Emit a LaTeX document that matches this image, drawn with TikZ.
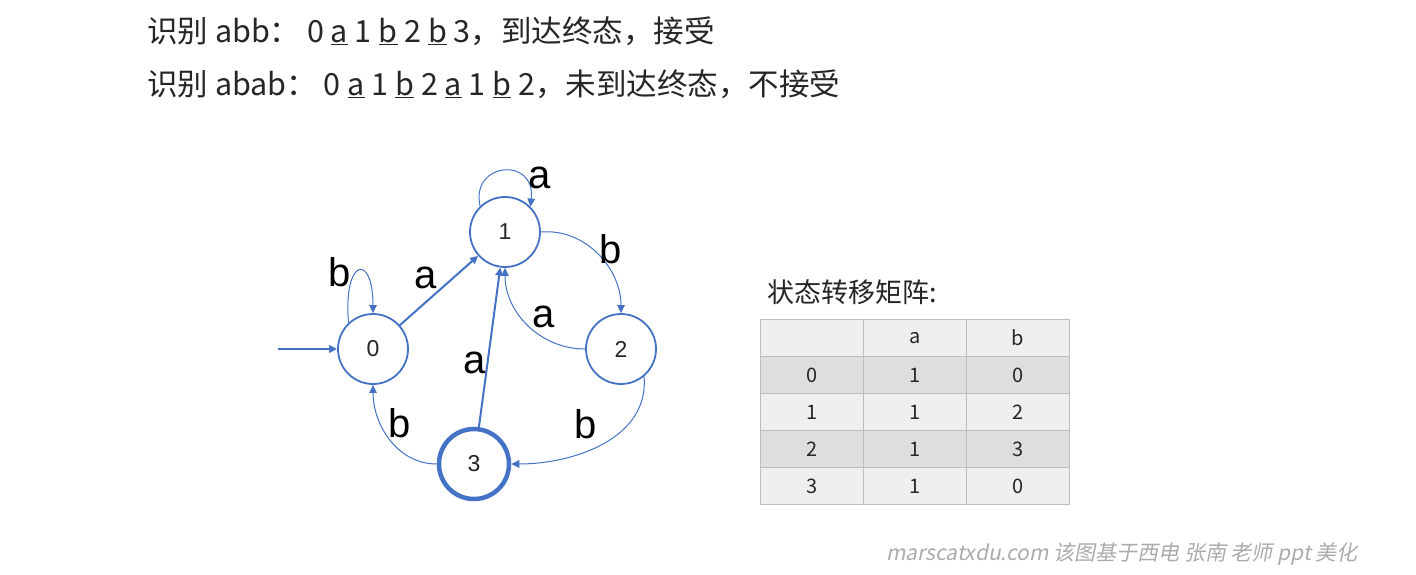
\documentclass[tikz,border=0pt]{standalone}
\usepackage{fontspec}
\setmainfont{Noto Sans CJK SC}
\newfontfamily\labfont{Liberation Sans}
\newfontfamily\wmfont{Noto Sans CJK SC}[FakeSlant=0.2]
\usetikzlibrary{arrows.meta}
\definecolor{edgeblue}{HTML}{4472C4}
\definecolor{txt}{HTML}{262626}
\definecolor{rowdark}{HTML}{DEDEDE}
\definecolor{rowlight}{HTML}{EFEFEF}
\definecolor{tborder}{HTML}{BDBDBD}
\tikzset{
  state/.style={circle, draw=edgeblue, line width=1.8pt, minimum size=70pt, inner sep=0pt, font=\labfont\fontsize{23}{23}\selectfont, text=txt},
  accept/.style={state, line width=4.5pt},
  lab/.style={inner sep=0pt, font=\labfont\fontsize{40}{40}\selectfont, text=black},
  thinedge/.style={draw=edgeblue, line width=1pt, -{Triangle[length=8pt,width=7.5pt]}},
  thickedge/.style={draw=edgeblue, line width=2pt, -{Triangle[length=8pt,width=7.5pt]}},
  cell/.style={draw=tborder, line width=1.5pt, minimum width=103pt, minimum height=37pt, inner sep=0pt, font=\fontsize{20}{20}\selectfont, text=txt},
  line/.style={anchor=west, inner sep=0pt, font=\fontsize{30.5}{30.5}\selectfont, text=txt},
}
\begin{document}
\begin{tikzpicture}[x=1pt,y=-1pt]
\useasboundingbox (0,0) rectangle (1416,575);
\fill[white] (0,0) rectangle (1416,575);
% text lines
\node[line] (l1) at (147,31) {识别 abb：\ 0 \underline{a} 1 \underline{b} 2 \underline{b} 3，到达终态，接受};
\node[line] (l2) at (147,84) {识别 abab：\ 0 \underline{a} 1 \underline{b} 2 \underline{a} 1 \underline{b} 2，未到达终态，不接受};
% states
\node[state] (n0) at (373,349) {0};
\node[state] (n1) at (505,232) {1};
\node[state] (n2) at (621,349) {2};
\node[accept] (n3) at (474,464) {3};
\coordinate (s) at (278,349);
% edges
\draw[thickedge] (s) -- (n0);
\draw[thinedge] (n0.133) .. controls (343,258) and (373,252) .. (n0.90);
\draw[thinedge] (n1.134) .. controls (470,162) and (536,156) .. (n1.45);
\draw[thickedge] (n0) -- (n1);
\draw[thinedge] (n1.east) to[out=5,in=90] (n2.north);
\draw[thinedge] (n2.west) to[out=180,in=-90] (n1.south);
\draw[thickedge] (n3) -- (n1);
\draw[thinedge] (n2.-50) to[out=-85,in=0] (n3.east);
\draw[thinedge] (n3.west) to[out=180,in=-90] (n0.south);
% labels
\node[lab] (lb0) at (340,272) {b};
\node[lab] (la1) at (540,178) {a};
\node[lab] (la01) at (426,278) {a};
\node[lab] (lb12) at (611,249) {b};
\node[lab] (la21) at (544,317) {a};
\node[lab] (la31) at (475,363) {a};
\node[lab] (lb23) at (586,424) {b};
\node[lab] (lb30) at (400,423) {b};
% table
\node[anchor=west, inner sep=0pt, font=\fontsize{27}{27}\selectfont, text=txt] (tt) at (767,292) {状态转移矩阵:};
\node[cell, fill=rowlight] (h0) at (812,338) {};
\node[cell, fill=rowlight] (h1) at (915,338) {a};
\node[cell, fill=rowlight] (h2) at (1018,338) {b};
\node[cell, fill=rowdark] (r00) at (812,375) {0};
\node[cell, fill=rowdark] (r01) at (915,375) {1};
\node[cell, fill=rowdark] (r02) at (1018,375) {0};
\node[cell, fill=rowlight] (r10) at (812,412) {1};
\node[cell, fill=rowlight] (r11) at (915,412) {1};
\node[cell, fill=rowlight] (r12) at (1018,412) {2};
\node[cell, fill=rowdark] (r20) at (812,449) {2};
\node[cell, fill=rowdark] (r21) at (915,449) {1};
\node[cell, fill=rowdark] (r22) at (1018,449) {3};
\node[cell, fill=rowlight] (r30) at (812,486) {3};
\node[cell, fill=rowlight] (r31) at (915,486) {1};
\node[cell, fill=rowlight] (r32) at (1018,486) {0};
% watermark
\node[anchor=east, inner sep=0pt, font=\wmfont\fontsize{21}{21}\selectfont, text=black!33] (wm) at (1358,554) {marscatxdu.com 该图基于西电 张南 老师 ppt 美化};
\end{tikzpicture}
\end{document}
